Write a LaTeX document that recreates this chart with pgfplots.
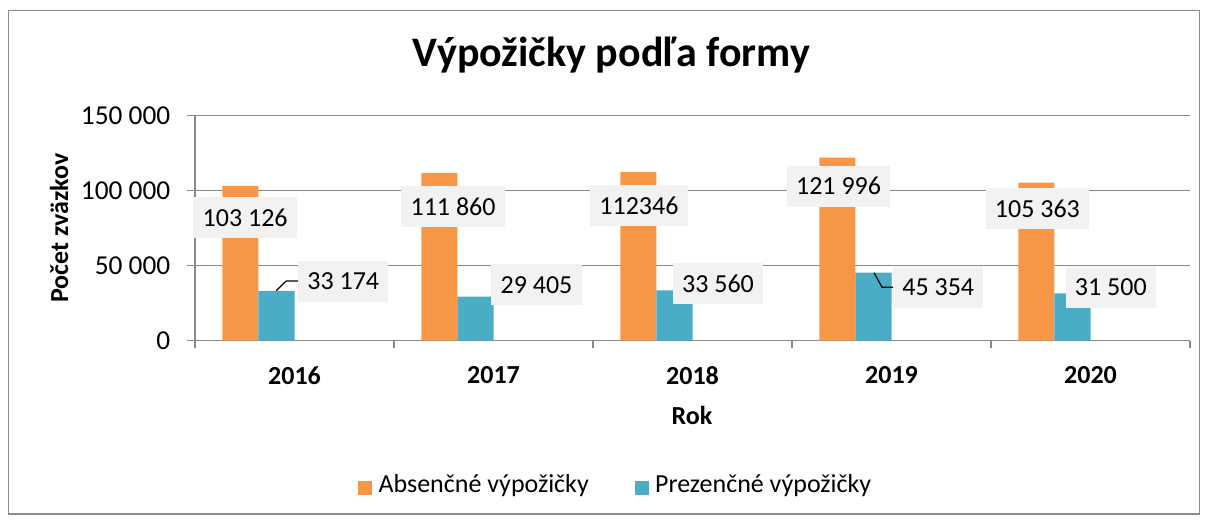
\documentclass[border=0pt]{standalone}
\usepackage{fontspec}
\setmainfont{Carlito}
\usepackage{pgfplots}
\pgfplotsset{compat=1.18}
\definecolor{orng}{HTML}{F79646}
\definecolor{tealb}{HTML}{4BACC6}
\definecolor{lblgray}{HTML}{F2F2F2}
\definecolor{axgray}{HTML}{898989}
\definecolor{framegray}{HTML}{8C8C8C}
\tikzset{lbl/.style={fill=lblgray, inner xsep=7pt, inner ysep=0pt, minimum height=30.75pt,
    font=\fontsize{19.5}{23}\selectfont}}
\begin{document}
\begin{tikzpicture}
\useasboundingbox (0,0) rectangle (906pt,390.75pt);
\begin{scope}[x=0.75pt,y=0.75pt]
\draw[framegray, line width=1.3pt] (8.5,521-10.5) rectangle (1199.5,521-514);
\node[anchor=base, font=\fontsize{31.5}{36}\selectfont\bfseries] at (611.5,521-66.7) {Výpožičky podľa formy};
\end{scope}
\begin{axis}[
  at={(146.25pt,135.225pt)}, anchor=south west,
  scale only axis, width=746.25pt, height=168.75pt,
  xmin=-0.5, xmax=4.5, ymin=0, ymax=150000,
  axis x line*=bottom, axis y line*=left,
  axis line style={axgray, line width=1.2pt},
  scaled y ticks=false,
  ytick={0,50000,100000,150000},
  yticklabels={0,50~000,100~000,150~000},
  ymajorgrids, grid style={axgray, line width=1.2pt},
  tick align=outside,
  major tick length=6pt,
  minor tick length=5.25pt,
  xtick={0,1,2,3,4},
  xticklabels={2016,2017,2018,2019,2020},
  major x tick style={draw=none},
  minor xtick={-0.5,0.5,1.5,2.5,3.5,4.5},
  minor x tick style={axgray, line width=1.2pt},
  major y tick style={axgray, line width=1.2pt},
  yticklabel style={font=\fontsize{20.5}{24}\selectfont, xshift=-9pt},
  xticklabel style={font=\fontsize{19.5}{23}\selectfont\bfseries, yshift=-10pt},
  /pgf/number format/assume math mode=true,
  clip=false,
  legend style={at={(0.1638,-0.6547)}, anchor=west, draw=none, fill=none,
    inner sep=0pt, legend columns=2,
    font=\fontsize{19.5}{23}\selectfont,
    nodes={inner sep=0pt, text height=0.644em, text depth=0pt},
    /tikz/every odd column/.append style={column sep=4.7pt},
    /tikz/every even column/.append style={column sep=34.5pt}},
  legend image code/.code={\fill[#1] (0pt,-5.25pt) rectangle (10.5pt,5.25pt);},
]
\addplot[ybar, bar width=0.181, bar shift=-0.2715, fill=orng, draw=none]
  coordinates {(0,103126) (1,111860) (2,112346) (3,121996) (4,105363)};
\addlegendentry{Absenčné výpožičky}
\addplot[ybar, bar width=0.181, bar shift=-0.0905, fill=tealb, draw=none]
  coordinates {(0,33174) (1,29405) (2,33560) (3,45354) (4,31500)};
\addlegendentry{Prezenčné výpožičky}
\node[lbl] at (axis cs:-0.248,82133) {103 126};
\node[lbl] at (axis cs:0.245,39467) {33 174};
\node[lbl] at (axis cs:0.797,89600) {111 860};
\node[lbl] at (axis cs:1.216,37333) {29 405};
\node[lbl] at (axis cs:1.731,90200) {112346};
\node[lbl] at (axis cs:2.128,38000) {33 560};
\node[lbl] at (axis cs:2.734,103000) {121 996};
\node[lbl] at (axis cs:3.235,35467) {45 354};
\node[lbl] at (axis cs:3.733,88000) {105 363};
\node[lbl] at (axis cs:4.102,35467) {31 500};
\draw[black, line width=0.9pt] (axis cs:-0.092,33333) -- (axis cs:-0.042,39800) -- (axis cs:0.0186,39800);
\draw[black, line width=0.9pt] (axis cs:2.912,45333) -- (axis cs:2.9527,35600) -- (axis cs:3.008,35600);
\end{axis}
\begin{scope}[x=0.75pt,y=0.75pt]
\node[anchor=base, font=\fontsize{19.5}{23}\selectfont\bfseries] at (692,521-425) {Rok};
\node[anchor=base, rotate=90, font=\fontsize{19.5}{23}\selectfont\bfseries] at (68,521-228) {Počet zväzkov};
\end{scope}
\end{tikzpicture}
\end{document}
